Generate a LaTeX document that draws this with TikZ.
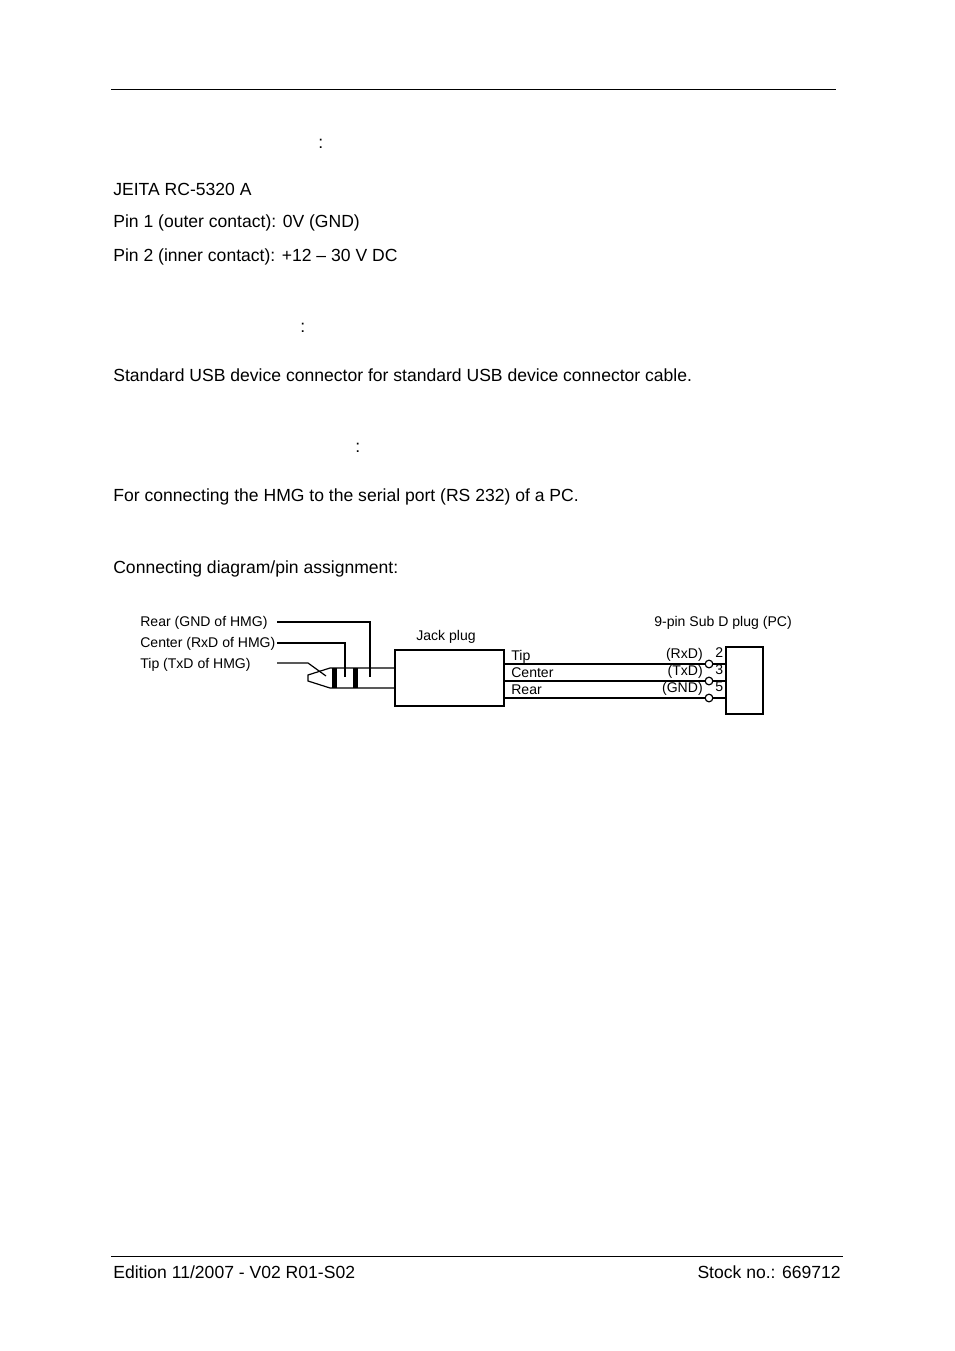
\documentclass[tikz,border=0pt]{standalone}
\usepackage{fontspec}
\setmainfont{Liberation Sans}
\usetikzlibrary{positioning,fit,calc}
\tikzset{
  text-style/.style = {
    anchor=base west, inner sep=0pt,
    font=\fontsize{11}{13}\selectfont
  },
  label-style/.style = {
    anchor=base west, inner sep=0pt,
    font=\fontsize{8.8}{10}\selectfont
  },
  rule-style/.style = {line width=0.6pt},
  wire-style/.style = {line width=0.75pt},
  box-style/.style = {
    draw, line width=0.75pt, inner sep=0pt
  },
  band-style/.style = {
    fill=black, inner sep=0pt
  },
  pin-style/.style = {
    circle, draw, fill=white, line width=0.75pt,
    minimum size=4.8pt, inner sep=0pt
  }
}
\def\createWire name:#1 display:#2 num:#3 sig:#4 at:#5;{
  \node [pin-style] (#1) at (709,#5) {};
  \node [label-style] (#1-name) at (511,#5-4) {#2};
  \node [label-style, anchor=base east] (#1-sig) at (703,#5-6) {#4};
  \node [label-style] (#1-num) at (715,#5-7) {#3};
  \draw [wire-style] (jack.east |- #1) -- (#1) -- (#1 -| subd.west);
}
\begin{document}
\begin{tikzpicture}[x=0.022013cm, y=-0.022013cm]
  \path[use as bounding box] (0,0) rectangle (954,1351);

  % header and footer rules
  \coordinate (head-l) at (111,89);
  \coordinate (head-r) at (836,89);
  \draw[rule-style] (head-l) -- (head-r);
  \coordinate (foot-l) at (111,1256);
  \coordinate (foot-r) at (843,1256);
  \draw[rule-style] (foot-l) -- (foot-r);

  % page text
  \node[text-style] (colon-a) at (318,149) {:};
  \node[text-style] (jeita) at (113,196) {JEITA RC-5320 A};
  \node[text-style] (pin-one) at (113,228) {Pin 1 (outer contact): 0V (GND)};
  \node[text-style] (pin-two) at (113,261) {Pin 2 (inner contact): +12 – 30 V DC};
  \node[text-style] (colon-b) at (300,332) {:};
  \node[text-style] (usb) at (113,381) {Standard USB device connector for standard USB device connector cable.};
  \node[text-style] (colon-c) at (355,452) {:};
  \node[text-style] (serial) at (113,501) {For connecting the HMG to the serial port (RS 232) of a PC.};
  \node[text-style] (caption) at (113,573) {Connecting diagram/pin assignment:};
  \node[text-style] (edition) at (113,1278) {Edition 11/2007 - V02 R01-S02};
  \node[text-style, anchor=base east] (stock) at (841,1278) {Stock no.: 669712};

  % boxes
  \node[box-style, fit={(395,650) (504,706)}] (jack) {};
  \node[label-style, anchor=base] (jack-label) at (446,640) {Jack plug};
  \node[box-style, fit={(726,647) (763,714)}] (subd) {};
  \node[label-style] (subd-label) at (654,626) {9-pin Sub D plug (PC)};

  % jack plug outline
  \coordinate (plug-top) at (330,668);
  \coordinate (plug-bot) at (330,688);
  \coordinate (tip-up) at (308,675);
  \coordinate (tip-dn) at (308,681);
  \draw[wire-style] (jack.west |- plug-top) -- (plug-top) -- (tip-up)
    -- (tip-dn) -- (plug-bot) -- (jack.west |- plug-bot);
  \node[band-style, fit={(332,668) (337,688)}] (band-a) {};
  \node[band-style, fit={(353,668) (358,688)}] (band-b) {};

  % contact labels
  \node[label-style] (rear-label) at (140,626) {Rear (GND of HMG)};
  \node[label-style] (center-label) at (140,647) {Center (RxD of HMG)};
  \node[label-style] (tip-label) at (140,668) {Tip (TxD of HMG)};
  \coordinate (rear-a) at (277,622);
  \coordinate (rear-b) at (370,622);
  \coordinate (rear-c) at (370,677);
  \draw[wire-style] (rear-a) -- (rear-b) -- (rear-c);
  \coordinate (center-a) at (277,643);
  \coordinate (center-b) at (345,643);
  \coordinate (center-c) at (345,677);
  \draw[wire-style] (center-a) -- (center-b) -- (center-c);
  \coordinate (tip-a) at (277,663);
  \coordinate (tip-b) at (308,663);
  \coordinate (tip-c) at (326,676);
  \draw[wire-style] (tip-a) -- (tip-b) -- (tip-c);

  % cable wires
  \createWire name:pin2 display:Tip num:2 sig:(RxD) at:664;
  \createWire name:pin3 display:Center num:3 sig:(TxD) at:681;
  \createWire name:pin5 display:Rear num:5 sig:(GND) at:698;
\end{tikzpicture}
\end{document}
